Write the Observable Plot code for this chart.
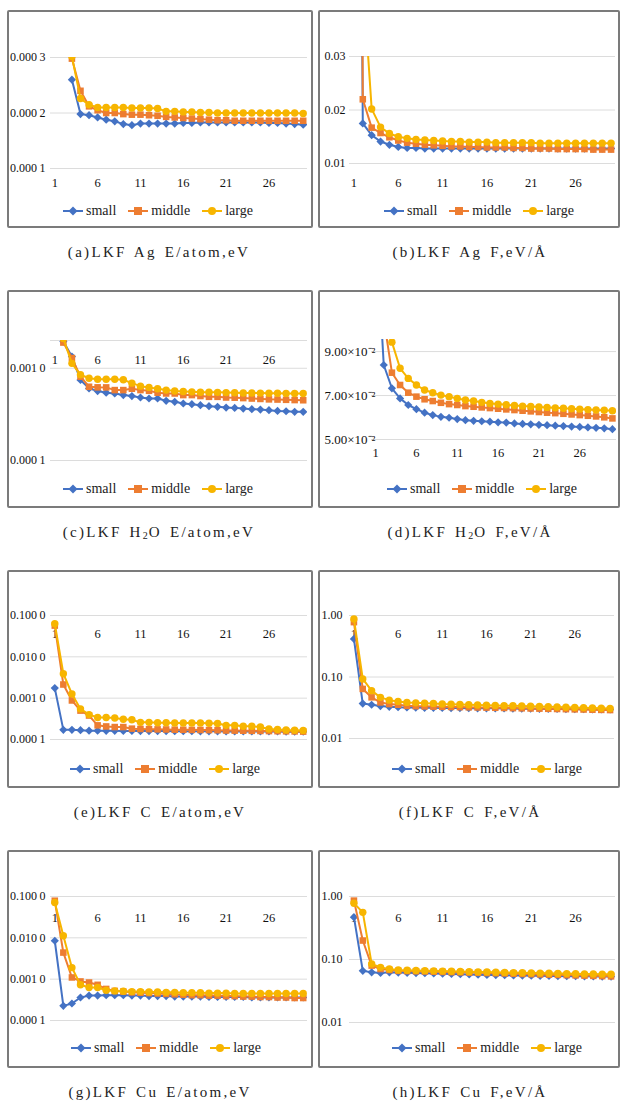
<!DOCTYPE html>
<html><head><meta charset="utf-8">
<script src="https://cdn.jsdelivr.net/npm/d3@7"></script>
<script src="https://cdn.jsdelivr.net/npm/@observablehq/plot@0.6"></script>
<style>
html,body{margin:0;padding:0;background:#fff;}
body{width:623px;height:1111px;position:relative;overflow:hidden;font-family:"Liberation Serif",serif;color:#111;}
.box{position:absolute;box-sizing:border-box;border:2px solid #7b7b7b;border-radius:2px;background:#fff;height:218px;}
.box svg.plot{position:absolute;left:0;top:0;}
.legend{position:absolute;display:flex;align-items:center;font-family:"Liberation Serif",serif;font-size:14px;line-height:18px;color:#222;white-space:nowrap;}
.legend .item{display:flex;align-items:center;margin-right:12px;}
.legend .item svg{margin-right:3px;}
.cap{position:absolute;font-family:"Liberation Serif",serif;font-size:15px;letter-spacing:2.3px;word-spacing:2px;white-space:nowrap;transform:translate(-50%,-50%);color:#222;}
.cap sub{font-size:10px;vertical-align:-2px;letter-spacing:1px;}
svg.plot text{font-family:"Liberation Serif",serif !important;}
</style>
</head><body>
<script>
// ---------- data ----------
const iterations = [1,2,3,4,5,6,7,8,9,10,11,12,13,14,15,16,17,18,19,20,21,22,23,24,25,26,27,28,29,30];
const xTicks = [1,6,11,16,21,26];
const seriesNames = ["small","middle","large"];

// (a) LKF Ag E/atom
const agE_small  = [null,null,0.00026,0.000198,0.000196,0.000192,0.000188,0.000185,0.00018,0.000178,0.000181,0.000181,0.000181,0.000181,0.000181,0.000182,0.000182,0.000183,0.000183,0.000183,0.000183,0.000183,0.000183,0.000183,0.000183,0.000182,0.000182,0.000181,0.00018,0.000179];
const agE_middle = [null,null,0.000298,0.00024,0.000212,0.000205,0.0002,0.0002,0.000198,0.000197,0.000197,0.000196,0.000195,0.000193,0.000192,0.000191,0.00019,0.000189,0.000188,0.000187,0.000187,0.000186,0.000186,0.000186,0.000186,0.000186,0.000186,0.000186,0.000186,0.000186];
const agE_large  = [null,null,0.000302,0.000226,0.000215,0.00021,0.00021,0.00021,0.00021,0.000209,0.000209,0.000209,0.000208,0.000203,0.000203,0.000202,0.000202,0.000201,0.000201,0.0002,0.0002,0.0002,0.0002,0.0002,0.0002,0.0002,0.0002,0.0002,0.0002,0.000199];
const agE_yTicks = [0.0001,0.0002,0.0003];
const agE_yLabels = ["0.000\u20091","0.000\u20092","0.000\u20093"];

// (b) LKF Ag F
const agF_small  = [0.25,0.0175,0.0153,0.0141,0.0135,0.0131,0.0129,0.0129,0.0128,0.0128,0.0128,0.0128,0.0128,0.0128,0.0128,0.0128,0.0128,0.0128,0.0128,0.0128,0.0128,0.0128,0.0128,0.0128,0.0128,0.0128,0.0128,0.0128,0.0128,0.0128];
const agF_middle = [0.35,0.022,0.0167,0.0157,0.0149,0.0143,0.0139,0.0137,0.0135,0.0134,0.0133,0.0132,0.0132,0.0131,0.0131,0.013,0.013,0.013,0.0129,0.0129,0.0128,0.0128,0.0128,0.0127,0.0127,0.0127,0.0127,0.0126,0.0126,0.0126];
const agF_large  = [0.5,0.045,0.0202,0.0168,0.0156,0.015,0.0147,0.0145,0.0144,0.0143,0.0142,0.0141,0.0141,0.014,0.014,0.014,0.0139,0.0139,0.0139,0.0139,0.0139,0.0138,0.0138,0.0138,0.0138,0.0138,0.0138,0.0138,0.0138,0.0138];
const agF_yTicks = [0.01,0.02,0.03];
const agF_yLabels = ["0.01","0.02","0.03"];

// (c) LKF H2O E/atom
const h2oE_small  = [null,0.00195,0.00134,0.000746,0.000605,0.000566,0.000543,0.000533,0.000512,0.0005,0.000482,0.00047,0.00047,0.000444,0.000433,0.000415,0.000408,0.000398,0.000388,0.000382,0.000375,0.000372,0.000366,0.00036,0.000357,0.000351,0.000345,0.000342,0.000337,0.000337];
const h2oE_middle = [null,0.0019,0.00129,0.00081,0.00063,0.000621,0.00062,0.00058,0.00058,0.0006,0.00058,0.00057,0.000543,0.000533,0.000533,0.000512,0.000512,0.0005,0.00049,0.00049,0.000482,0.00048,0.000475,0.00047,0.000465,0.00046,0.000458,0.000455,0.000452,0.00045];
const h2oE_large  = [null,0.0021,0.00113,0.00085,0.00078,0.00076,0.00076,0.00076,0.00075,0.00069,0.00064,0.00062,0.0006,0.00058,0.000566,0.00056,0.000555,0.00055,0.00055,0.000548,0.000545,0.000543,0.00054,0.00054,0.000538,0.000536,0.000535,0.000534,0.000533,0.000533];
const h2oE_yTicks = [0.0001,0.001];
const h2oE_yLabels = ["0.000\u20091","0.001\u20090"];

// (d) LKF H2O F
const h2oF_small  = [0.15,0.0839,0.0733,0.0687,0.0657,0.0638,0.0622,0.0611,0.0603,0.0599,0.0593,0.0588,0.0585,0.0583,0.0581,0.0578,0.0577,0.0573,0.0571,0.0569,0.0567,0.0565,0.0563,0.0561,0.0559,0.0557,0.0555,0.0553,0.0551,0.0547];
const h2oF_middle = [0.2,0.105,0.0804,0.0748,0.0713,0.0695,0.0683,0.0675,0.0667,0.0661,0.0657,0.0652,0.0649,0.0646,0.0643,0.064,0.0637,0.0634,0.0631,0.0628,0.0625,0.0622,0.062,0.0617,0.0614,0.0611,0.0608,0.0605,0.0601,0.0596];
const h2oF_large  = [0.3,0.15,0.0943,0.0824,0.0778,0.0748,0.0725,0.0713,0.0702,0.0695,0.0687,0.068,0.0675,0.0669,0.0664,0.0661,0.0658,0.0655,0.0652,0.065,0.0648,0.0646,0.0644,0.0642,0.064,0.0638,0.0636,0.0634,0.0633,0.0631];
const h2oF_yTicks = [0.05,0.07,0.09];
const h2oF_yLabels = ["5.00\u00d710\u207b\u00b2","7.00\u00d710\u207b\u00b2","9.00\u00d710\u207b\u00b2"];

// (e) LKF C E/atom
const cE_small  = [0.00175,0.000171,0.000171,0.000168,0.000163,0.000163,0.000162,0.000162,0.000161,0.000161,0.00016,0.00016,0.00016,0.00016,0.000159,0.000159,0.000159,0.000158,0.000158,0.000158,0.000157,0.000157,0.000157,0.000157,0.000156,0.000156,0.000156,0.000155,0.000155,0.000155];
const cE_middle = [0.057,0.00214,0.00088,0.0005,0.00038,0.00022,0.000207,0.0002,0.0002,0.000183,0.00018,0.000178,0.000176,0.000175,0.000173,0.000172,0.000171,0.00017,0.000169,0.000168,0.000165,0.000164,0.000163,0.000162,0.000161,0.00016,0.000159,0.000158,0.000157,0.000155];
const cE_large  = [0.063,0.0039,0.00127,0.00055,0.0004,0.00034,0.00034,0.00033,0.00031,0.0003,0.00026,0.00026,0.000255,0.000255,0.00025,0.00025,0.00025,0.00025,0.000248,0.000245,0.00022,0.00022,0.00021,0.00021,0.0002,0.00018,0.000175,0.00017,0.000168,0.000165];
const cE_yTicks = [0.0001,0.001,0.01,0.1];
const cE_yLabels = ["0.000\u20091","0.001\u20090","0.010\u20090","0.100\u20090"];

// (f) LKF C F
const cF_small  = [0.416,0.037,0.0354,0.0337,0.0328,0.0322,0.032,0.0318,0.0316,0.0315,0.0314,0.0313,0.0312,0.0311,0.031,0.031,0.0309,0.0308,0.0307,0.0306,0.0305,0.0304,0.0303,0.0302,0.0301,0.03,0.0299,0.0298,0.0297,0.0296];
const cF_middle = [0.78,0.064,0.0467,0.0386,0.0363,0.0354,0.034,0.0336,0.0333,0.033,0.0328,0.0326,0.0324,0.0322,0.032,0.0318,0.0316,0.0314,0.0312,0.031,0.0308,0.0306,0.0304,0.0302,0.03,0.0298,0.0296,0.0294,0.0292,0.029];
const cF_large  = [0.88,0.093,0.06,0.0467,0.042,0.0401,0.0386,0.038,0.0376,0.0372,0.0363,0.036,0.0357,0.0354,0.0351,0.0348,0.0345,0.0342,0.034,0.0337,0.0334,0.0331,0.0328,0.0325,0.0322,0.0319,0.0316,0.0313,0.031,0.0308];
const cF_yTicks = [0.01,0.1,1];
const cF_yLabels = ["0.01","0.10","1.00"];

// (g) LKF Cu E/atom
const cuE_small  = [0.0085,0.000226,0.000258,0.00036,0.0004,0.0004,0.00041,0.00041,0.00041,0.0004,0.0004,0.00039,0.00039,0.00039,0.00038,0.00038,0.00038,0.00038,0.00037,0.00037,0.00037,0.00037,0.00037,0.00036,0.00036,0.00036,0.00036,0.00036,0.00036,0.00036];
const cuE_middle = [0.079,0.0044,0.0011,0.00088,0.00083,0.00073,0.00058,0.00052,0.0005,0.00048,0.00047,0.00046,0.00045,0.00044,0.00043,0.00042,0.00041,0.00041,0.0004,0.0004,0.00039,0.00039,0.00038,0.00038,0.00037,0.00037,0.00036,0.00036,0.00035,0.00035];
const cuE_large  = [0.072,0.0112,0.0019,0.00073,0.00063,0.00063,0.00054,0.00052,0.00051,0.0005,0.0005,0.00049,0.00049,0.00048,0.00048,0.00047,0.00047,0.00047,0.00046,0.00046,0.00046,0.00045,0.00045,0.00045,0.00045,0.00045,0.00045,0.00045,0.00045,0.00045];
const cuE_yTicks = [0.0001,0.001,0.01,0.1];
const cuE_yLabels = ["0.000\u20091","0.001\u20090","0.010\u20090","0.100\u20090"];

// (h) LKF Cu F
const cuF_small  = [0.47,0.066,0.0627,0.0612,0.0627,0.062,0.0615,0.061,0.0605,0.06,0.0595,0.059,0.0585,0.058,0.0575,0.057,0.0566,0.0562,0.0558,0.0555,0.0552,0.055,0.0548,0.0546,0.0544,0.0542,0.054,0.0538,0.0536,0.0535];
const cuF_middle = [0.86,0.2,0.08,0.0706,0.0681,0.066,0.0655,0.065,0.0645,0.064,0.0635,0.063,0.0625,0.062,0.0615,0.061,0.0605,0.06,0.0595,0.059,0.0585,0.058,0.0575,0.057,0.0565,0.056,0.0555,0.055,0.0545,0.054];
const cuF_large  = [0.78,0.56,0.085,0.075,0.0706,0.068,0.0675,0.067,0.0665,0.066,0.0655,0.065,0.0645,0.064,0.0636,0.0632,0.0628,0.0624,0.062,0.0616,0.0612,0.0608,0.0604,0.06,0.0597,0.0594,0.0591,0.0588,0.0585,0.0582];
const cuF_yTicks = [0.01,0.1,1];
const cuF_yLabels = ["0.01","0.10","1.00"];

const captions = [
  "(a)LKF Ag E/atom,eV",
  "(b)LKF Ag F,eV/\u00c5",
  "(c)LKF H<sub>2</sub>O E/atom,eV",
  "(d)LKF H<sub>2</sub>O F,eV/\u00c5",
  "(e)LKF C E/atom,eV",
  "(f)LKF C F,eV/\u00c5",
  "(g)LKF Cu E/atom,eV",
  "(h)LKF Cu F,eV/\u00c5"
];

// ---------- style / layout ----------
const colors = {small:"#4472C4", middle:"#ED7D31", large:"#F7B500"};
const symbols = {small:"diamond2", middle:"square", large:"circle"};
const SVG_H = 195;
const serif = "'Liberation Serif', serif";

const panels = [
  {series:[agE_small,agE_middle,agE_large], type:"linear", domain:[0.0001,0.0003], yTicks:agE_yTicks, yLabels:agE_yLabels, grid:[0.0001,0.0002,0.0003],
   box:[7,10,306], m:[45,4,39,41], xAnchor:"bottom", xPad:10, yPad:5, yFont:12, leg:[54,199], cap:[159,252]},
  {series:[agF_small,agF_middle,agF_large], type:"linear", domain:[0.01,0.03], yTicks:agF_yTicks, yLabels:agF_yLabels, grid:[0.01,0.02,0.03],
   box:[318,10,302], m:[44,3,44,29], xAnchor:"bottom", xPad:15, yPad:4, yFont:12, leg:[64,199], cap:[470,252]},
  {series:[h2oE_small,h2oE_middle,h2oE_large], type:"log", domain:[0.0001,0.002], yTicks:h2oE_yTicks, yLabels:h2oE_yLabels, grid:[0.0001,0.001,0.002],
   box:[7,290,306], m:[48,4,27,41], xAnchor:"top", xPad:-19, yPad:5, yFont:12, leg:[54,197], cap:[159,532]},
  {series:[h2oF_small,h2oF_middle,h2oF_large], type:"linear", domain:[0.05,0.0955], yTicks:h2oF_yTicks, yLabels:h2oF_yLabels, grid:[0.05,0.07,0.09],
   box:[318,290,302], m:[47,2,48,51], xAnchor:"bottom", xPad:9, yPad:-4, yFont:13, leg:[67,197], cap:[470,532]},
  {series:[cE_small,cE_middle,cE_large], type:"log", domain:[0.0001,0.1], yTicks:cE_yTicks, yLabels:cE_yLabels, grid:[0.0001,0.001,0.01,0.1],
   box:[7,570,306], m:[43,4,28,41], xAnchor:"top", xPad:-18, yPad:5, yFont:12, leg:[61,197], cap:[160,812]},
  {series:[cF_small,cF_middle,cF_large], type:"log", domain:[0.01,1], yTicks:cF_yTicks, yLabels:cF_yLabels, grid:[0.01,0.1,1],
   box:[318,570,302], m:[43,4,29,29], xAnchor:"top", xPad:-18, yPad:7, yFont:12, leg:[72,197], cap:[470,812]},
  {series:[cuE_small,cuE_middle,cuE_large], type:"log", domain:[0.0001,0.1], yTicks:cuE_yTicks, yLabels:cuE_yLabels, grid:[0.0001,0.001,0.01,0.1],
   box:[7,850,306], m:[44,4,27,41], xAnchor:"top", xPad:-21, yPad:5, yFont:12, leg:[62,196], cap:[160,1092]},
  {series:[cuF_small,cuF_middle,cuF_large], type:"log", domain:[0.01,1], yTicks:cuF_yTicks, yLabels:cuF_yLabels, grid:[0.01,0.1,1],
   box:[318,850,302], m:[44,3,25,29], xAnchor:"top", xPad:-21, yPad:7, yFont:12, leg:[72,196], cap:[470,1092]}
];

function markerSvg(s, cx, cy) {
  const c = colors[s];
  if (s === "small") return `<polygon points="${cx},${cy-4.5} ${cx+4.5},${cy} ${cx},${cy+4.5} ${cx-4.5},${cy}" fill="${c}"/>`;
  if (s === "middle") return `<rect x="${cx-4}" y="${cy-4}" width="8" height="8" fill="${c}"/>`;
  return `<circle cx="${cx}" cy="${cy}" r="4" fill="${c}"/>`;
}

panels.forEach((p, idx) => {
  const box = document.createElement("div");
  box.className = "box";
  box.style.left = p.box[0] + "px";
  box.style.top = p.box[1] + "px";
  box.style.width = p.box[2] + "px";
  document.body.appendChild(box);

  const labelMap = new Map(p.yTicks.map((t, i) => [t, p.yLabels[i]]));
  const marks = [
    Plot.gridY(p.grid, {stroke: "#dcdcdc", strokeOpacity: 1, strokeWidth: 1}),
    Plot.axisY({ticks: p.yTicks, label: null, tickSize: 0, tickPadding: p.yPad, tickFormat: d => labelMap.get(d), fontSize: p.yFont, fill: "#111"}),
    Plot.axisX({ticks: xTicks, label: null, anchor: p.xAnchor, tickSize: 0, tickPadding: p.xPad, lineAnchor: p.xAnchor === "top" ? "middle" : "top", tickFormat: d => String(d), fontSize: 12.5, fill: "#111"})
  ];
  seriesNames.forEach((s, k) => {
    const rows = [];
    p.series[k].forEach((v, i) => { if (v != null) rows.push({x: iterations[i], y: v}); });
    marks.push(Plot.line(rows, {x: "x", y: "y", stroke: colors[s], strokeWidth: 2, clip: true}));
    marks.push(Plot.dot(rows, {x: "x", y: "y", symbol: symbols[s], fill: colors[s], r: 3.7, clip: true}));
  });

  const chart = Plot.plot({
    width: p.box[2] - 4,
    height: SVG_H,
    marginTop: p.m[0], marginRight: p.m[1], marginBottom: p.m[2], marginLeft: p.m[3],
    x: {type: "linear", domain: [0.5, 30.5], label: null},
    y: {type: p.type, domain: p.domain, label: null},
    style: {fontFamily: serif, fontSize: "12px", color: "#111", background: "transparent", overflow: "visible"},
    marks
  });
  chart.classList.add("plot");
  box.appendChild(chart);

  const leg = document.createElement("div");
  leg.className = "legend";
  leg.style.left = p.leg[0] + "px";
  leg.style.top = (p.leg[1] - 9) + "px";
  seriesNames.forEach(s => {
    const item = document.createElement("div");
    item.className = "item";
    item.innerHTML = `<svg width="20" height="10"><line x1="0" y1="5" x2="20" y2="5" stroke="${colors[s]}" stroke-width="2"/>${markerSvg(s, 10, 5)}</svg><span>${s}</span>`;
    leg.appendChild(item);
  });
  box.appendChild(leg);

  const cap = document.createElement("div");
  cap.className = "cap";
  cap.style.left = p.cap[0] + "px";
  cap.style.top = p.cap[1] + "px";
  cap.innerHTML = captions[idx];
  document.body.appendChild(cap);
});
</script>
</body></html>
